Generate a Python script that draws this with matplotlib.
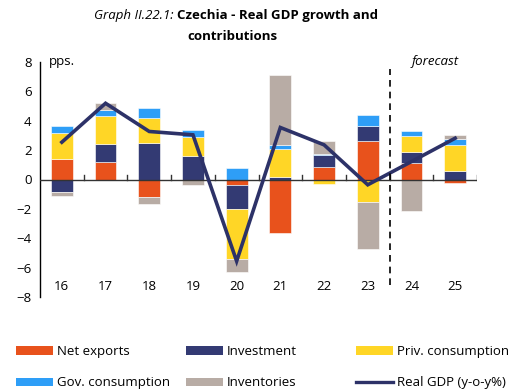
import matplotlib.pyplot as plt
from matplotlib.lines import Line2D
from matplotlib.patches import Patch
import numpy as np

plt.rcParams['font.family'] = ['Open Sans', 'DejaVu Sans']

years = ['16', '17', '18', '19', '20', '21', '22', '23', '24', '25']
net_exports = [1.40, 1.22, -1.22, 0.00, -0.39, -3.63, 0.86, 2.60, 1.09, -0.27]
investment = [-0.82, 1.18, 2.47, 1.59, -1.63, 0.20, 0.79, 1.07, 0.77, 0.61]
priv_cons = [1.75, 1.95, 1.70, 1.29, -3.40, 1.88, -0.32, -1.50, 1.07, 1.75]
gov_cons = [0.48, 0.39, 0.70, 0.50, 0.79, 0.25, 0.10, 0.70, 0.39, 0.43]
inventories = [-0.30, 0.45, -0.45, -0.36, -0.90, 4.80, 0.90, -3.24, -2.15, 0.25]
real_gdp = [2.54, 5.19, 3.27, 3.04, -5.56, 3.54, 2.36, -0.36, 1.22, 2.81]

series = [
    ('Net exports', net_exports, '#E8521C'),
    ('Investment', investment, '#333A73'),
    ('Priv. consumption', priv_cons, '#FFD626'),
    ('Gov. consumption', gov_cons, '#2E9EF7'),
    ('Inventories', inventories, '#B8ACA5'),
]
line_color = '#2D3268'
fs = 9.5

fig = plt.figure(figsize=(5.14, 3.89), dpi=100)
ax = fig.add_axes([40 / 514, 1 - 297 / 389, 437 / 514, 235 / 389])

x = np.arange(len(years))
pos_base = np.zeros(len(years))
neg_base = np.zeros(len(years))
for name, vals, col in series:
    v = np.array(vals)
    base = np.where(v >= 0, pos_base, neg_base)
    ax.bar(x, v, 0.5, bottom=base, color=col, edgecolor='#ffffff', linewidth=0.4, zorder=2)
    pos_base += np.where(v >= 0, v, 0)
    neg_base += np.where(v < 0, v, 0)

ax.plot(x, real_gdp, color=line_color, lw=2.6, zorder=4, solid_joinstyle='miter')

ax.set_xlim(-0.5, 9.5)
ax.set_ylim(-8, 8)
ax.set_yticks(np.arange(-8, 9, 2))
ax.tick_params(axis='y', length=0, labelsize=fs, pad=6)
ax.set_xticks([])
for s in ['top', 'right', 'bottom']:
    ax.spines[s].set_visible(False)
ax.spines['left'].set_linewidth(1.0)

# zero line with small ticks between years
ax.axhline(0, color='#333333', lw=1.0, zorder=3)
for b in np.arange(0.5, 10, 1.0):
    ax.plot([b, b], [0, 0.3], color='#333333', lw=1.0, zorder=3)
for i, y in enumerate(years):
    ax.text(i, -7.3, y, ha='center', va='center', fontsize=fs)

# forecast separator
ax.plot([7.5, 7.5], [-7.2, 7.55], color='black', lw=1.2, ls=(0, (4, 3)), zorder=5)
ax.text(8.55, 8.0, 'forecast', ha='center', va='center', fontsize=fs, style='italic')
ax.text(0.0, 8.0, 'pps.', ha='center', va='center', fontsize=fs)

# title: italic label followed by bold heading
fig.text(0.345, 1 - 15 / 389, 'Graph II.22.1: ', ha='right', va='center', fontsize=fs, style='italic')
fig.text(0.345, 1 - 15 / 389, 'Czechia - Real GDP growth and', ha='left', va='center',
         fontsize=fs, fontweight='bold')
fig.text(232 / 514, 1 - 37 / 389, 'contributions', ha='center', va='center',
         fontsize=fs, fontweight='bold')

handles = {name: Patch(facecolor=col, edgecolor='none') for name, _, col in series}
handles['Real GDP (y-o-y%)'] = Line2D([], [], color=line_color, lw=2.4)
columns = [['Net exports', 'Gov. consumption'],
           ['Investment', 'Inventories'],
           ['Priv. consumption', 'Real GDP (y-o-y%)']]
for px, names in zip([16, 186, 356], columns):
    fig.legend([handles[k] for k in names], names, loc='upper left',
               bbox_to_anchor=(px / 514, 1 - 345 / 389), frameon=False, fontsize=fs,
               handlelength=2.8, handleheight=0.6, handletextpad=0.3,
               labelspacing=1.4, borderpad=0, borderaxespad=0)

fig.savefig('out.png', dpi=100)
